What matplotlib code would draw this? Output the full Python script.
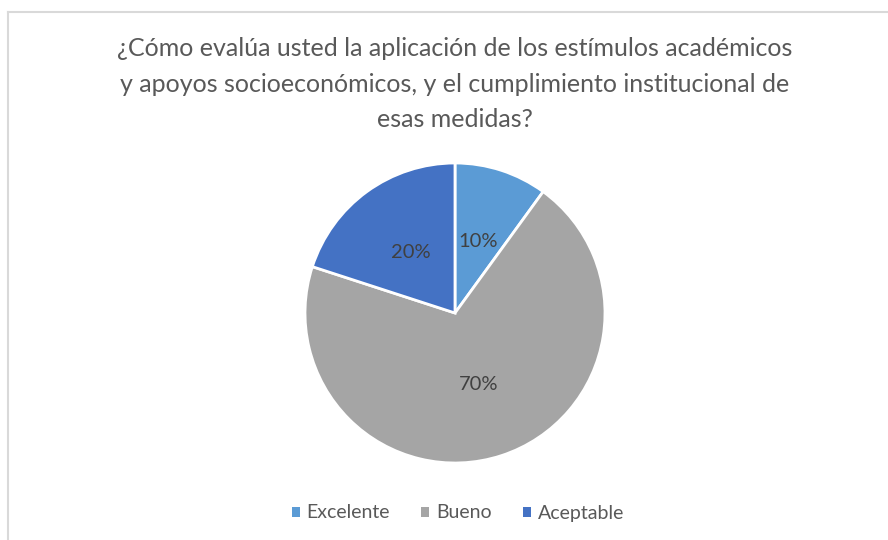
import matplotlib
matplotlib.use("Agg")
import matplotlib.pyplot as plt
from matplotlib.lines import Line2D
from matplotlib.patches import Patch

categories = ["Excelente", "Bueno", "Aceptable"]
values = [10, 70, 20]
colors = ["#5B9BD5", "#A5A5A5", "#4472C4"]
title = ("¿Cómo evalúa usted la aplicación de los estímulos académicos\n"
         "y apoyos socioeconómicos, y el cumplimiento institucional de\n"
         "esas medidas?")

plt.rcParams['font.family'] = ['Lato', 'DejaVu Sans']

W, H = 888, 540
fig = plt.figure(figsize=(W / 100, H / 100), dpi=100)
fig.patch.set_facecolor("white")

# frame lines (chart border, cropped)
fig.add_artist(Line2D([8 / W, 1], [1 - 12 / H, 1 - 12 / H], color="#D9D9D9", lw=1.5))
fig.add_artist(Line2D([8 / W, 8 / W], [1 - 12 / H, 0], color="#D9D9D9", lw=1.5))

cx, cy, r = 455, 313, 150
ax = fig.add_axes([(cx - r) / W, 1 - (cy + r) / H, 2 * r / W, 2 * r / H])
wedges, texts, autotexts = ax.pie(
    values, colors=colors, startangle=90, counterclock=False,
    autopct=lambda p: f"{p:.0f}%", pctdistance=0.5,
    wedgeprops=dict(edgecolor="white", linewidth=2),
    textprops=dict(color="#404040", fontsize=14.5))
ax.set_aspect("auto")
ax.set_xlim(-1, 1)
ax.set_ylim(-1, 1)
ax.axis("off")

fig.text(cx / W, 1 - 84 / H, title, ha="center", va="center", fontsize=18,
         color="#595959", linespacing=1.68)

handles = [Patch(facecolor=c, edgecolor="none") for c in colors]
fig.legend(handles, categories, loc="center", bbox_to_anchor=(458 / W, 1 - 513 / H),
           ncol=3, frameon=False, fontsize=14, labelcolor="#595959",
           handlelength=0.42, handleheight=0.42, handletextpad=0.35, columnspacing=1.6)

fig.savefig("out.png", dpi=100)
